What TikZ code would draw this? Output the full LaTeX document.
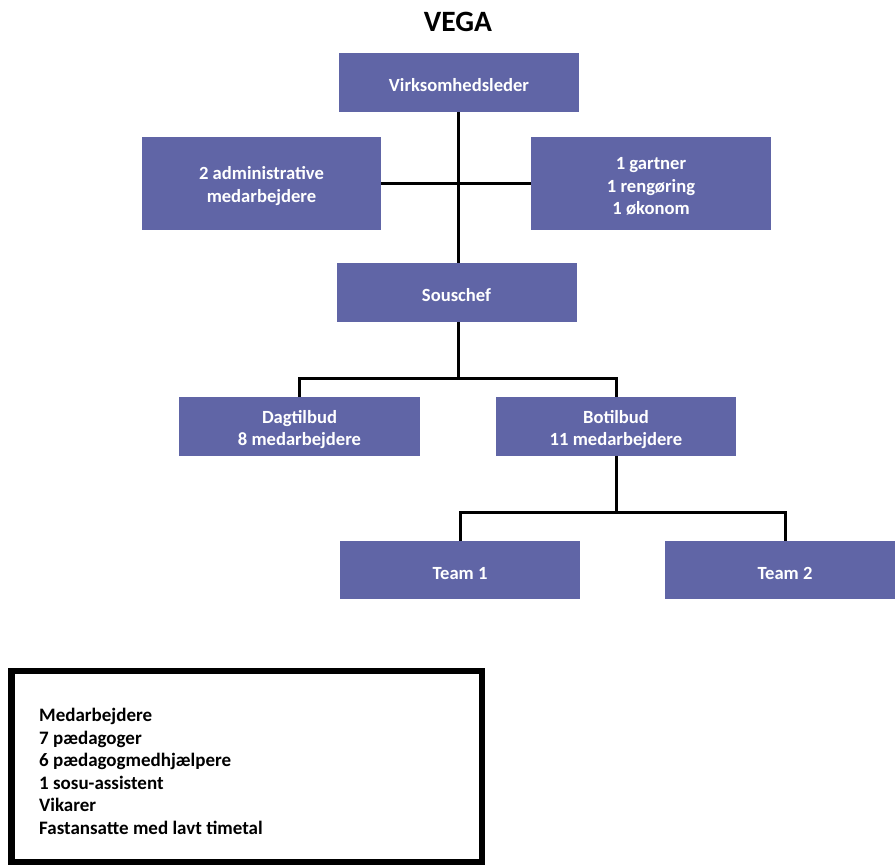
\documentclass[tikz,border=0pt]{standalone}
\usepackage{fontspec}
\setmainfont{Carlito}
\newcommand\firstrow{\rule{0pt}{19pt}}
\begin{document}
\begin{tikzpicture}[x=1pt,y=-1pt,
  orgbox/.style={fill=boxc, draw=none, text=white, inner sep=0pt,
    font=\bfseries\fontsize{18.6}{22.5}\selectfont, align=center,
    minimum width=240pt, minimum height=59pt},
  conn/.style={line width=3pt, draw=black}]
\definecolor{boxc}{RGB}{96,101,166}
\useasboundingbox (0,0) rectangle (895,865);
\fill[white] (0,0) rectangle (895,865);
\node[font=\bfseries\fontsize{29.5}{33}\selectfont] (title) at (458,22) {VEGA};
\node[orgbox] (lead) at (459,82.5) {\firstrow Virksomhedsleder};
\node[orgbox, minimum width=239pt, minimum height=93pt] (admin) at (261.5,183) {\firstrow 2 administrative\\medarbejdere};
\node[orgbox, minimum height=93pt] (serv) at (651,183) {\firstrow 1 gartner\\1 rengøring\\1 økonom};
\node[orgbox] (sous) at (456.5,292.5) {\firstrow Souschef};
\node[orgbox, minimum width=241pt] (dag) at (299.5,426.5) {\firstrow Dagtilbud\\8 medarbejdere};
\node[orgbox] (bo) at (616,426.5) {\firstrow Botilbud\\11 medarbejdere};
\node[orgbox, minimum height=58pt] (t1) at (460,570) {\firstrow Team 1};
\node[orgbox, minimum height=58pt] (t2) at (785,570) {\firstrow Team 2};
\coordinate (j1) at (458,378);
\coordinate (j2) at (616,512);
\draw[conn] (lead.south -| j1) -- (sous.north -| j1);
\draw[conn] (admin.east) -- (serv.west);
\draw[conn] (sous.south -| j1) -- (j1);
\draw[conn] (dag.north) |- (j1) -| (bo.north);
\draw[conn] (bo.south) -- (j2);
\draw[conn] (t1.north) |- (j2) -| (t2.north);
\draw[line width=6.5pt] (11.5,671) rectangle (482,862);
\node[anchor=north west, inner sep=0pt, align=left,
  font=\bfseries\fontsize{19}{22.5}\selectfont] (staff) at (39,708)
  {Medarbejdere\\7 pædagoger\\6 pædagogmedhjælpere\\1 sosu-assistent\\Vikarer\\Fastansatte med lavt timetal};
\end{tikzpicture}
\end{document}
